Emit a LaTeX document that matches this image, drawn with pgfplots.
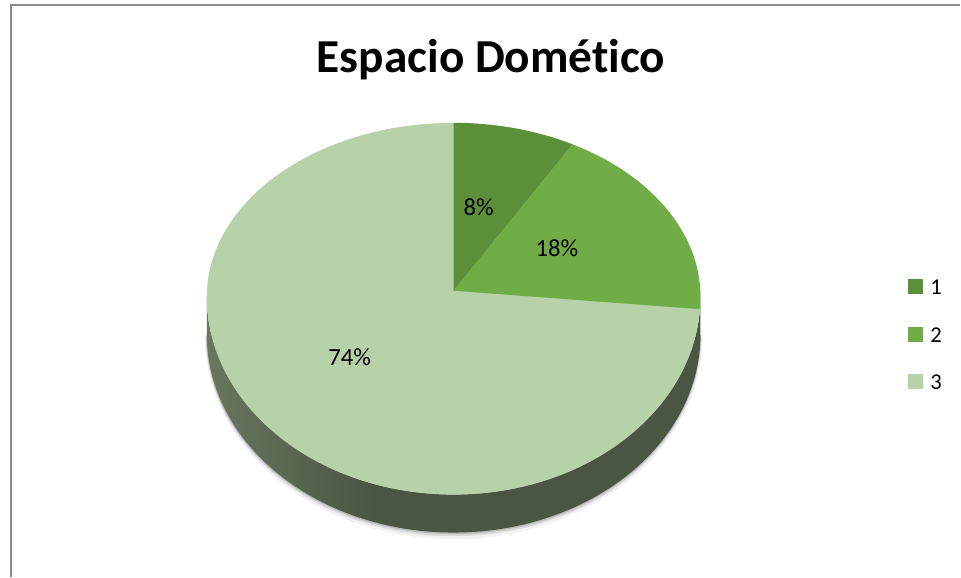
\documentclass[border=0pt]{standalone}
\usepackage{fontspec}
\setmainfont{Carlito}[Ligatures=NoCommon]
\usepackage{pgfplots}
\usepackage{pgfplotstable}
\pgfplotsset{compat=1.18}

\definecolor{s1}{HTML}{5B8F3A}
\definecolor{s2}{HTML}{70AD47}
\definecolor{s3}{HTML}{B7D1A9}
\definecolor{sidelight}{HTML}{96A989}
\definecolor{sidedark}{HTML}{4A5542}
\definecolor{framegray}{HTML}{8C8C8C}
\pgfdeclarehorizontalshading{sidewall}{100bp}{color(0bp)=(sidelight); color(42bp)=(sidedark); color(100bp)=(sidedark)}

% valores del grafico (porcentajes)
\pgfplotstableread{
slice value
1 8
2 18
3 74
}\piedata

\begin{document}
\begin{tikzpicture}
\pgfplotstablegetelem{0}{value}\of\piedata \let\vA\pgfplotsretval
\pgfplotstablegetelem{1}{value}\of\piedata \let\vB\pgfplotsretval
\pgfmathsetmacro{\aA}{90-3.6*\vA}
\pgfmathsetmacro{\aB}{\aA-3.6*\vB}
\begin{axis}[
    width=720.75pt, height=432.75pt, scale only axis,
    xmin=0, xmax=961, ymin=-577, ymax=0,
    hide axis, clip=false
]
\path (axis cs:0,-577) rectangle (axis cs:961,0);

% sombra bajo el pastel
\fill[black,opacity=0.05] (axis cs:205,-337) arc[start angle=180,end angle=360,x radius=186.75pt,y radius=152pt] -- cycle;
\fill[black,opacity=0.10] (axis cs:206,-336) arc[start angle=180,end angle=360,x radius=186pt,y radius=150.5pt] -- cycle;
\fill[black,opacity=0.15] (axis cs:206.5,-335.5) arc[start angle=180,end angle=360,x radius=185.6pt,y radius=149.3pt] -- cycle;

% lateral
\shade[shading=sidewall] (axis cs:207,-297) arc[start angle=180,end angle=360,x radius=185.25pt,y radius=148.5pt]
    -- (axis cs:701,-335) arc[start angle=360,end angle=180,x radius=185.25pt,y radius=148.5pt] -- cycle;

% cara superior (porcion 3)
\fill[s3] (axis cs:207,-297) arc[start angle=180,end angle=0,x radius=185.25pt,y radius=130.5pt]
    arc[start angle=0,end angle=-180,x radius=185.25pt,y radius=148.5pt] -- cycle;

% porcion 1
\fill[s1] (axis cs:454,-291) -- (axis cs:454,-123)
    arc[start angle=90,end angle=\aA,x radius=185.25pt,y radius=130.5pt] -- cycle;

% porcion 2
\fill[s2] (axis cs:454,-291) -- (axis cs:{454+247*cos(\aA)},{-297+174*sin(\aA)})
    arc[start angle=\aA,end angle=0,x radius=185.25pt,y radius=130.5pt]
    arc[start angle=0,end angle=\aB,x radius=185.25pt,y radius=148.5pt] -- cycle;

% etiquetas
\node[anchor=base,inner sep=0,font=\fontsize{18.5}{22}\selectfont] at (axis cs:479,-216) {8\%};
\node[anchor=base,inner sep=0,font=\fontsize{18.5}{22}\selectfont] at (axis cs:557.5,-257) {18\%};
\node[anchor=base,inner sep=0,font=\fontsize{18.5}{22}\selectfont] at (axis cs:350,-366) {74\%};

% titulo
\node[anchor=base,inner sep=0,font=\fontsize{35.5}{42}\selectfont\bfseries] at (axis cs:491.5,-72.5) {Espacio Domético};

% leyenda
\fill[s1] (axis cs:909,-294) rectangle (axis cs:924,-279);
\fill[s2] (axis cs:909,-342) rectangle (axis cs:924,-327);
\fill[s3] (axis cs:909,-389.5) rectangle (axis cs:924,-374.5);
\node[anchor=base west,inner sep=0,font=\fontsize{17}{20}\selectfont] at (axis cs:931,-295) {1};
\node[anchor=base west,inner sep=0,font=\fontsize{17}{20}\selectfont] at (axis cs:931,-342.5) {2};
\node[anchor=base west,inner sep=0,font=\fontsize{17}{20}\selectfont] at (axis cs:931,-390) {3};

% marco
\draw[framegray,line width=1.2pt] (axis cs:11.25,-577) -- (axis cs:11.25,-5.25) -- (axis cs:961,-5.25);
\end{axis}
\end{tikzpicture}
\end{document}
